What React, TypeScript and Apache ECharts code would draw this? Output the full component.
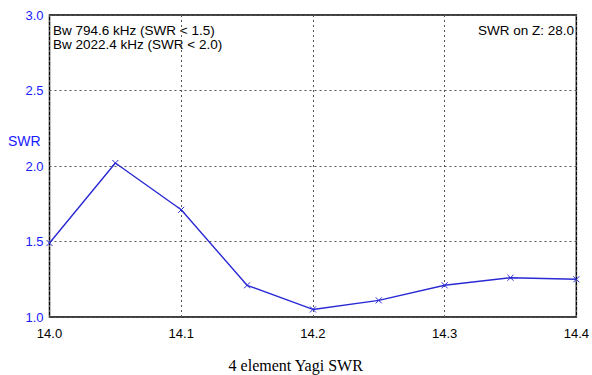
import React, { useEffect, useRef } from "react";
import * as echarts from "echarts";

const freqs = [14.0, 14.05, 14.1, 14.15, 14.2, 14.25, 14.3, 14.35, 14.4];
const swr = [1.49, 2.02, 1.71, 1.21, 1.05, 1.11, 1.21, 1.26, 1.25];
const bwTexts = ["Bw 794.6 kHz (SWR < 1.5)", "Bw 2022.4 kHz (SWR < 2.0)"];
const zText = "SWR on Z: 28.0";
const title = "4 element Yagi SWR";
const yName = "SWR";

export default function App() {
  const ref = useRef<HTMLDivElement>(null);
  useEffect(() => {
    if (!ref.current) return;
    const chart = echarts.init(ref.current, undefined, { renderer: "svg" });
    const font = "Arial, 'Liberation Sans', sans-serif";
    chart.setOption({
      animation: false,
      backgroundColor: "#ffffff",
      grid: {
        left: 49.5,
        right: 14,
        top: 15,
        bottom: 58,
        show: true,
        borderColor: "#000",
        borderWidth: 1.5,
        backgroundColor: "transparent",
      },
      xAxis: {
        type: "value",
        min: 14.0,
        max: 14.4,
        interval: 0.1,
        axisLine: { show: false },
        axisTick: { show: false },
        axisLabel: {
          color: "#000",
          fontFamily: font,
          fontSize: 13,
          margin: 10,
          formatter: (v: number) => v.toFixed(1),
        },
        splitLine: {
          show: true,
          lineStyle: { color: "#555", type: [2, 3], width: 1 },
        },
      },
      yAxis: {
        type: "value",
        min: 1.0,
        max: 3.0,
        interval: 0.5,
        axisLine: { show: false },
        axisTick: { show: false },
        axisLabel: {
          color: "#1a1aff",
          fontFamily: font,
          fontSize: 13,
          margin: 6,
          formatter: (v: number) => v.toFixed(1),
        },
        splitLine: {
          show: true,
          lineStyle: { color: "#555", type: [2, 3], width: 1 },
        },
      },
      series: [
        {
          type: "line",
          data: freqs.map((f, i) => [f, swr[i]]),
          lineStyle: { color: "#2a2ad4", width: 1.4 },
          symbol: "path://M0,0L10,10M10,0L0,10",
          symbolSize: 6,
          itemStyle: { color: "none", borderColor: "#2a2ad4", borderWidth: 1 },
          z: 5,
        },
      ],
      graphic: [
        {
          type: "text",
          left: 53,
          top: 23,
          style: {
            text: bwTexts.join("\n"),
            font: `13.5px ${font}`,
            fill: "#000",
            lineHeight: 14.5,
          },
        },
        {
          type: "text",
          right: 18,
          top: 23,
          style: { text: zText, font: `13.5px ${font}`, fill: "#000" },
        },
        {
          type: "text",
          left: 8,
          top: 134,
          style: { text: yName, font: `14px ${font}`, fill: "#1a1aff" },
        },
        {
          type: "text",
          left: "center",
          top: 357,
          style: {
            text: title,
            font: `16px 'Liberation Serif', 'Times New Roman', serif`,
            fill: "#000",
          },
        },
      ],
    });
    return () => chart.dispose();
  }, []);
  return <div ref={ref} style={{ width: 592, height: 375, position: "absolute", left: 0, top: 0 }} />;
}
